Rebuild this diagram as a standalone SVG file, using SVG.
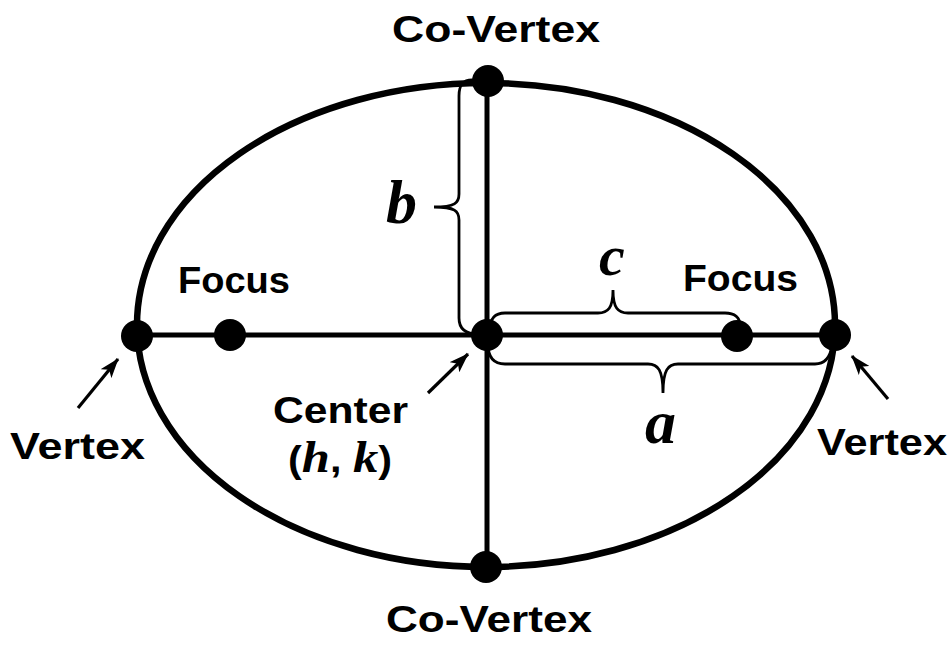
<svg xmlns="http://www.w3.org/2000/svg" width="951" height="652" viewBox="0 0 951 652">
<style>
.lbl{font-family:"Liberation Sans","DejaVu Sans",Arial,sans-serif;font-weight:bold;font-size:36px;fill:#000}
.var{font-family:"Liberation Serif","Times New Roman",serif;font-weight:bold;font-style:italic;fill:#000}
.axis{stroke:#000;stroke-width:5;fill:none}
.brace{stroke:#000;stroke-width:2.8;fill:none;stroke-linecap:round}
.arr{stroke:#000;stroke-width:3.2;fill:none;marker-end:url(#ah)}
.dot{fill:#000}
</style>
<defs>
<marker id="ah" viewBox="0 0 20 14" refX="19" refY="7" markerWidth="20" markerHeight="14" markerUnits="userSpaceOnUse" orient="auto">
<path d="M0,0 L20,7 L0,14 L5,7 Z" fill="#000"/>
</marker>
</defs>
<rect width="951" height="652" fill="#fff"/>
<g id="ellipse">
<ellipse cx="486" cy="325" rx="349" ry="242" fill="none" stroke="#000" stroke-width="6.5"/>
</g>
<g id="connectors">
<line class="axis" x1="137" y1="335" x2="835" y2="335"/>
<line class="axis" x1="487" y1="81" x2="487" y2="568"/>
<path class="brace" d="M472,80 C462,80 459,86 459,96 L459,194 C459,203 455,207 434,207 C455,207 459,211 459,220 L459,318 C459,328 464,334 478,334"/>
<path class="brace" d="M490,330 C490,318 495,313 505,313 L598,313 C608,313 613,308 613,290 C613,308 618,313 628,313 L725,313 C735,313 740,318 740,325"/>
<path class="brace" d="M488,344 C488,358 494,364 505,364 L648,364 C658,364 663,370 663,393 C663,370 668,364 678,364 L815,364 C825,364 830,358 832,346"/>
<line class="arr" x1="78" y1="408" x2="118" y2="359"/>
<line class="arr" x1="888" y1="399" x2="852" y2="356"/>
<line class="arr" x1="428" y1="393" x2="468" y2="354"/>
</g>
<g id="co-vertex-top"><circle class="dot" cx="488" cy="81" r="16"/><text class="lbl" x="496" y="42" text-anchor="middle" textLength="208" lengthAdjust="spacingAndGlyphs">Co-Vertex</text></g>
<g id="co-vertex-bottom"><circle class="dot" cx="486" cy="567" r="16"/><text class="lbl" x="489" y="632" text-anchor="middle" textLength="206" lengthAdjust="spacingAndGlyphs">Co-Vertex</text></g>
<g id="vertex-left"><circle class="dot" cx="137" cy="336" r="16"/><text class="lbl" x="10" y="459" textLength="135" lengthAdjust="spacingAndGlyphs">Vertex</text></g>
<g id="vertex-right"><circle class="dot" cx="835" cy="335" r="16"/><text class="lbl" x="817" y="455" textLength="130" lengthAdjust="spacingAndGlyphs">Vertex</text></g>
<g id="focus-left"><circle class="dot" cx="230" cy="335" r="16"/><text class="lbl" x="178" y="293" textLength="112" lengthAdjust="spacingAndGlyphs">Focus</text></g>
<g id="focus-right"><circle class="dot" cx="737" cy="336" r="16"/><text class="lbl" x="683" y="291" textLength="115" lengthAdjust="spacingAndGlyphs">Focus</text></g>
<g id="center"><circle class="dot" cx="487" cy="335" r="16"/>
<text class="lbl" x="273" y="423" textLength="135" lengthAdjust="spacingAndGlyphs">Center</text>
<text class="lbl" x="288" y="472" font-size="40" textLength="104" lengthAdjust="spacingAndGlyphs">(<tspan class="var" font-size="44">h</tspan>, <tspan class="var" font-size="44">k</tspan>)</text>
</g>
<g id="label-b"><text class="var" x="386" y="223" font-size="62">b</text></g>
<g id="label-c"><text class="var" x="599" y="275" font-size="58">c</text></g>
<g id="label-a"><text class="var" x="645" y="443" font-size="62">a</text></g>
</svg>
